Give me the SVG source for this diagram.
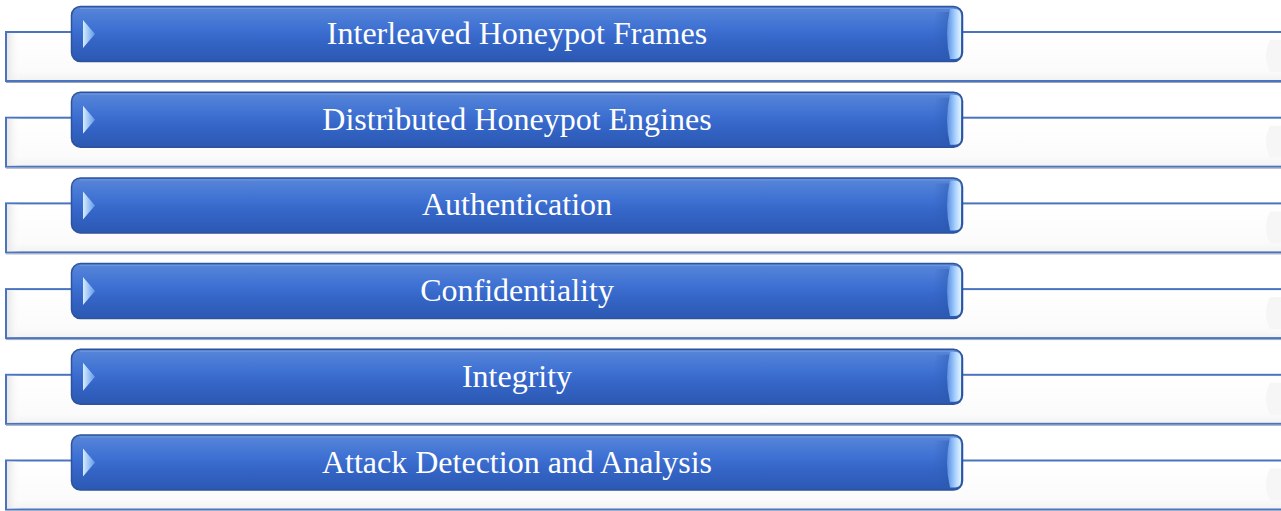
<svg xmlns="http://www.w3.org/2000/svg" width="1281" height="511" viewBox="0 0 1281 511">
<defs>
<linearGradient id="barGrad" x1="0" y1="0" x2="0" y2="1">
<stop offset="0" stop-color="#5886d8"/>
<stop offset="0.4" stop-color="#3e71d3"/>
<stop offset="0.6" stop-color="#3566c8"/>
<stop offset="1" stop-color="#2b58b2"/>
</linearGradient>
<linearGradient id="boxGrad" x1="0" y1="0" x2="0" y2="1">
<stop offset="0" stop-color="#ffffff"/>
<stop offset="0.8" stop-color="#fbfbfb"/>
<stop offset="1" stop-color="#f2f2f2"/>
</linearGradient>
<linearGradient id="boxLeft" x1="0" y1="0" x2="1" y2="0">
<stop offset="0" stop-color="#e6e6e6"/>
<stop offset="1" stop-color="#ffffff" stop-opacity="0"/>
</linearGradient>
<linearGradient id="triGrad" x1="0" y1="0" x2="1" y2="0">
<stop offset="0" stop-color="#d6ecff"/>
<stop offset="1" stop-color="#5e98ea"/>
</linearGradient>
<linearGradient id="hiGrad" x1="0" y1="0" x2="1" y2="0">
<stop offset="0" stop-color="#5a8ee2"/>
<stop offset="0.6" stop-color="#a9d2ff"/>
<stop offset="1" stop-color="#e4f4ff"/>
</linearGradient>
<linearGradient id="shGrad" x1="0" y1="0" x2="1" y2="0">
<stop offset="0" stop-color="#2f5fb8" stop-opacity="0"/>
<stop offset="1" stop-color="#2a56a8" stop-opacity="0.8"/>
</linearGradient>
<g id="row">
<rect x="6" y="32" width="1290" height="49" fill="url(#boxGrad)" stroke="#4a74c0" stroke-width="2"/>
<rect x="7" y="33" width="14" height="47" fill="url(#boxLeft)"/>
<line x1="6" y1="82.5" x2="1281" y2="82.5" stroke="#9aa6b8" stroke-width="1"/>
<path d="M1270,40 Q1262,56 1270,72 L1281,72 L1281,40 Z" fill="#f6f6f6"/>
<rect x="71.5" y="6.5" width="891" height="55" rx="9" fill="url(#barGrad)" stroke="#2d539a" stroke-width="1.5"/>
<path d="M80,8.5 L954,8.5" stroke="#7aa0e2" stroke-width="1" opacity="0.7"/>
<path d="M936,12 Q930,34 936,58 L950,58 L950,12 Z" fill="url(#shGrad)" opacity="0.6"/>
<path d="M950,9 Q944,34 950,59 L955,59 Q961,59 961,52 L961,16 Q961,9 955,9 Z" fill="url(#hiGrad)"/>
<polygon points="83,20 95,34 83,48" fill="url(#triGrad)"/>
</g>
</defs>
<style>
.lbl{font-family:"Liberation Serif","Times New Roman",serif;font-size:32px;fill:#ffffff;text-anchor:middle}
</style>
<g id="connectors"></g>
<g id="node1">
<use href="#row" transform="translate(0,0)"/>
<text class="lbl" x="517" y="44">Interleaved Honeypot Frames</text>
</g>
<g id="node2">
<use href="#row" transform="translate(0,85.7)"/>
<text class="lbl" x="517" y="129.7">Distributed Honeypot Engines</text>
</g>
<g id="node3">
<use href="#row" transform="translate(0,171.4)"/>
<text class="lbl" x="517" y="215.4">Authentication</text>
</g>
<g id="node4">
<use href="#row" transform="translate(0,257.1)"/>
<text class="lbl" x="517" y="301.1">Confidentiality</text>
</g>
<g id="node5">
<use href="#row" transform="translate(0,342.8)"/>
<text class="lbl" x="517" y="386.8">Integrity</text>
</g>
<g id="node6">
<use href="#row" transform="translate(0,428.5)"/>
<text class="lbl" x="517" y="472.5">Attack Detection and Analysis</text>
</g>
</svg>
